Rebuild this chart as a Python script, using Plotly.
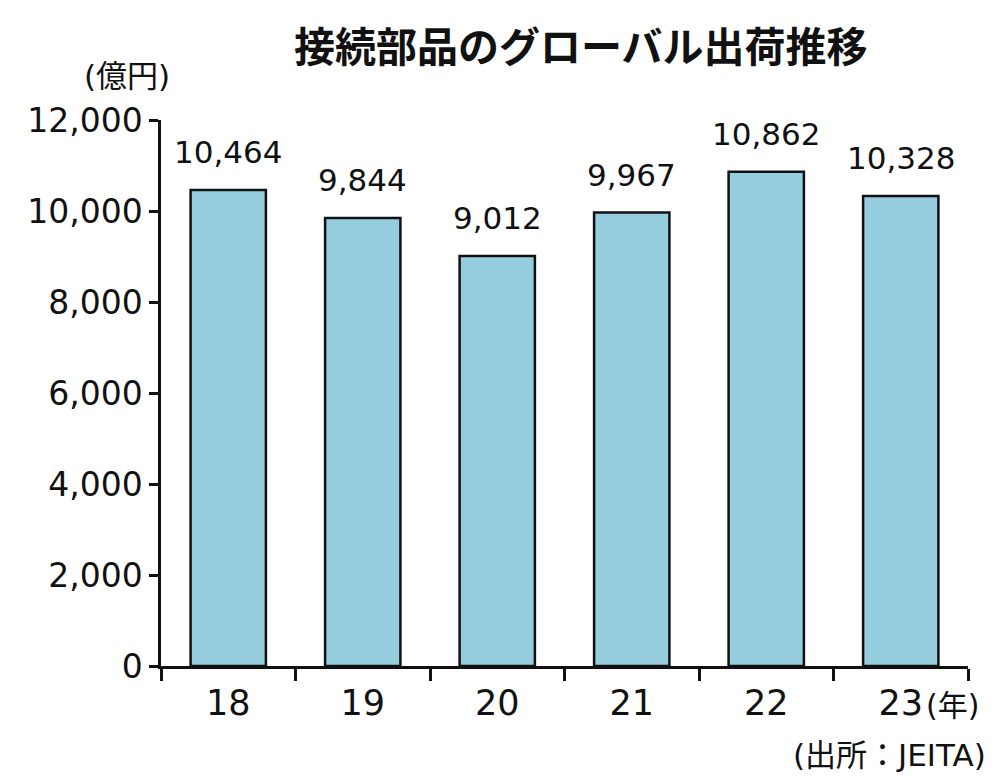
import plotly.graph_objects as go

years = ["18", "19", "20", "21", "22", "23"]
values = [10464, 9844, 9012, 9967, 10862, 10328]
labels = ["10,464", "9,844", "9,012", "9,967", "10,862", "10,328"]
yticks = [0, 2000, 4000, 6000, 8000, 10000, 12000]
yticklabels = ["0", "2,000", "4,000", "6,000", "8,000", "10,000", "12,000"]

FONT = "DejaVu Sans, Noto Sans CJK JP"

fig = go.Figure()
fig.add_trace(go.Bar(
    x=years, y=values, width=0.56,
    marker=dict(color="#96CDDE", line=dict(color="#111111", width=2.5)),
    hoverinfo="skip",
))

for i, (v, t) in enumerate(zip(values, labels)):
    fig.add_annotation(x=i, y=v, text=t, showarrow=False, yanchor="bottom",
                       yshift=18, font=dict(size=31, color="#111111", family=FONT))

fig.update_layout(
    width=1000, height=777,
    margin=dict(l=161, r=32, t=120, b=111),
    paper_bgcolor="white", plot_bgcolor="white",
    showlegend=False,
    font=dict(family=FONT, color="#111111"),
    xaxis=dict(
        type="category", range=[-0.5, 5.5], tickangle=0,
        showline=True, linecolor="#111111", linewidth=2.5,
        ticks="outside", tickson="boundaries", ticklen=12, tickwidth=2.5, tickcolor="#111111",
        tickfont=dict(size=35, family=FONT, color="#111111"),
        ticklabelstandoff=4,
        showgrid=False, zeroline=False,
    ),
    yaxis=dict(
        range=[0, 12000], tickvals=yticks, ticktext=yticklabels,
        showline=True, linecolor="#111111", linewidth=2.5,
        ticks="outside", ticklen=9, tickwidth=2.5, tickcolor="#111111",
        tickfont=dict(size=33, family=FONT, color="#111111"),
        showgrid=False, zeroline=False,
    ),
)

fig.add_annotation(xref="paper", yref="paper", x=0.52, y=1.0, yshift=76,
                   text="<b>接続部品のグローバル出荷推移</b>", showarrow=False,
                   xanchor="center", yanchor="middle",
                   font=dict(size=41, family="Noto Sans CJK JP", color="#111111"))
fig.add_annotation(xref="paper", yref="paper", x=0, y=1.0, xshift=-34, yshift=44,
                   text="(億円)", showarrow=False, xanchor="center", yanchor="middle",
                   font=dict(size=31, family=FONT, color="#111111"))
fig.add_annotation(xref="paper", yref="paper", x=1.0, y=0, xshift=-16, yshift=-39,
                   text="(年)", showarrow=False, xanchor="center", yanchor="middle",
                   font=dict(size=30, family=FONT, color="#111111"))
fig.add_annotation(xref="paper", yref="paper", x=1.0, y=0, xshift=20, yshift=-89,
                   text="(出所：JEITA)", showarrow=False, xanchor="right", yanchor="middle",
                   font=dict(size=31, family=FONT, color="#111111"))

fig.write_html("out.html")
